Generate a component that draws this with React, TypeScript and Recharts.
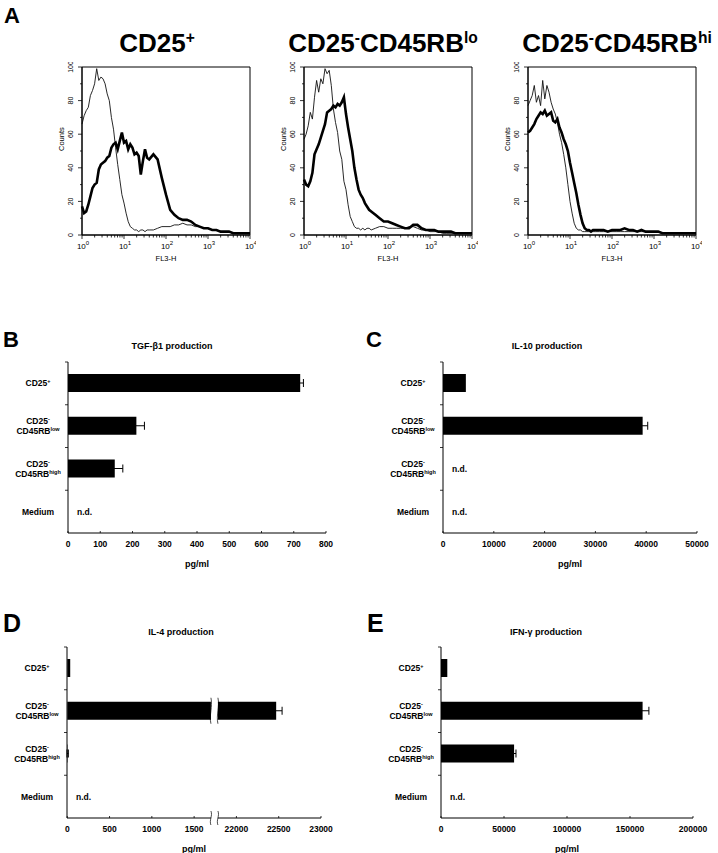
import React from "react";
import {
  LineChart,
  Line,
  XAxis,
  YAxis,
  ReferenceArea,
  BarChart,
  Bar,
  ErrorBar,
} from "recharts";

const FONT = '"Liberation Sans", Arial, Helvetica, sans-serif';

// ---- panel A: FL3-H histograms (x in decades, 10^0 .. 10^4) ----
const fl3Decades = [
  0, 0.05, 0.1, 0.15, 0.2, 0.25, 0.3, 0.35, 0.4, 0.45, 0.5, 0.55, 0.6, 0.65, 0.7, 0.75, 0.8,
  0.85, 0.9, 0.95, 1.0, 1.05, 1.1, 1.15, 1.2, 1.25, 1.3, 1.35, 1.4, 1.45, 1.5, 1.55, 1.6,
  1.7, 1.8, 1.9, 2.0, 2.1, 2.2, 2.3, 2.4, 2.5, 2.6, 2.7, 2.8, 2.9, 3.0, 3.1, 3.2, 3.3, 3.4,
  3.5, 3.6, 3.7, 3.8, 3.9, 4.0,
];

const cd25PosControl = [
  66, 71, 74, 76, 83, 86, 90, 99, 92, 94, 93, 90, 84, 80, 70, 63, 52, 42, 33, 24, 19, 13, 8, 5,
  4, 3, 3, 2, 3, 3, 2, 3, 3,
  3, 4, 5, 5, 5, 6, 6, 7, 6, 6, 5, 5, 4, 4, 3, 3, 2, 2, 2, 1, 1, 1, 1, 1,
];
const cd25PosStained = [
  17, 13, 14, 18, 23, 28, 30, 31, 39, 42, 43, 44, 46, 47, 52, 54, 55, 51, 56, 61, 55, 56, 51,
  54, 52, 48, 49, 47, 36, 44, 51, 46, 45,
  48, 45, 34, 24, 15, 12, 10, 9, 9, 8, 6, 5, 4, 4, 3, 3, 2, 2, 2, 1, 1, 1, 1, 1,
];

const rbLoControl = [
  57, 60, 65, 73, 69, 82, 92, 85, 93, 90, 99, 96, 98, 89, 75, 67, 61, 50, 45, 32, 27, 18, 11,
  8, 5, 4, 4, 3, 4, 3, 4, 4, 3,
  4, 5, 5, 4, 4, 4, 4, 4, 5, 5, 4, 3, 3, 2, 2, 2, 1, 1, 1, 1, 1, 1, 1, 1,
];
const rbLoStained = [
  33, 30, 29, 32, 37, 48, 51, 54, 58, 62, 66, 73, 74, 75, 77, 76, 78, 77, 79, 82, 72, 64, 57,
  50, 40, 33, 27, 24, 22, 19, 17, 15, 14,
  12, 10, 8, 8, 7, 6, 5, 4, 4, 6, 6, 4, 3, 3, 3, 2, 2, 2, 2, 1, 1, 1, 1, 1,
];

const rbHiControl = [
  77, 80, 83, 89, 79, 83, 77, 92, 81, 89, 85, 79, 75, 72, 67, 60, 55, 48, 40, 30, 20, 13, 7, 4,
  3, 3, 2, 2, 2, 2, 2, 2, 2,
  2, 2, 2, 2, 2, 2, 2, 2, 2, 2, 2, 2, 2, 2, 2, 1, 1, 1, 1, 1, 1, 1, 1, 1,
];
const rbHiStained = [
  61, 62, 64, 66, 69, 71, 73, 72, 74, 71, 72, 73, 68, 67, 69, 64, 61, 57, 54, 50, 43, 37, 31,
  25, 18, 12, 7, 4, 3, 3, 2, 3, 3,
  3, 3, 2, 3, 3, 3, 4, 3, 3, 2, 3, 2, 2, 2, 2, 1, 1, 1, 1, 1, 1, 1, 1, 1,
];

const countTicks = [0, 10, 20, 30, 40, 50, 60, 70, 80, 90, 100];
const decadeTicks = [0, 1, 2, 3, 4];
const minorSteps = [2, 3, 4, 5, 6, 7, 8, 9];

// ---- panels B-E: cytokine production ----
const cellTypes = ["CD25+", "CD25-CD45RBlow", "CD25-CD45RBhigh", "Medium"];
const cellLabelLines = [
  [["CD25", "+"]],
  [["CD25", "-"], ["CD45RB", "low"]],
  [["CD25", "-"], ["CD45RB", "high"]],
  [["Medium", ""]],
];

const tgfValues = [720, 212, 145, null];
const tgfErrors = [10, 25, 25, null];
const tgfTicks = [0, 100, 200, 300, 400, 500, 600, 700, 800];

const il10Values = [4500, 39300, null, null];
const il10Errors = [0, 1000, null, null];
const il10Ticks = [0, 10000, 20000, 30000, 40000, 50000];

const il4Values = [35, 22470, 5, null];
const il4Errors = [0, 70, 8, null];
// broken axis: display units, real values above the break are shifted by IL4_OFFSET
const il4Ticks = [0, 500, 1000, 1500, 2000, 2500, 3000];
const il4TickLabels = ["0", "500", "1000", "1500", "22000", "22500", "23000"];
const IL4_BREAK = 1740;
const IL4_OFFSET = 20000;

const ifnValues = [5000, 160000, 58000, null];
const ifnErrors = [0, 5000, 1500, null];
const ifnTicks = [0, 50000, 100000, 150000, 200000];

const HIST = 168;
const HIST_AX = 30;
const PLOT_H = 171;
const ROW_H = PLOT_H / 4;
const Y_W = 62;
const X_H = 38;
const X_GAP = 10;

const LogTick = ({ x, y, payload }: any) => {
  const v = payload.value;
  const major = Number.isInteger(v);
  const axisY = y - 8;
  return (
    <g>
      <line x1={x} x2={x} y1={axisY} y2={axisY + (major ? 4 : 2.5)} stroke="#000" strokeWidth={0.8} />
      {major && (
        <text x={x + 1} y={axisY + 14} textAnchor="middle" fontSize={8} fontFamily={FONT} fill="#000">
          10
          <tspan dy={-4} fontSize={6}>
            {v}
          </tspan>
        </text>
      )}
    </g>
  );
};

const CountTick = ({ x, y, payload }: any) => {
  const v = payload.value;
  const major = v % 20 === 0;
  return (
    <g>
      <line x1={x - (major ? 4 : 2)} x2={x} y1={y} y2={y} stroke="#000" strokeWidth={0.8} />
      {major && (
        <text
          transform={`translate(${x - 9}, ${y}) rotate(-90)`}
          textAnchor="middle"
          fontSize={7}
          fontFamily={FONT}
          fill="#000"
        >
          {v}
        </text>
      )}
    </g>
  );
};

function Histogram({ plotLeft, control, stained }: any) {
  const data = fl3Decades.map((d, i) => ({ d, control: control[i], stained: stained[i] }));
  const ticks = decadeTicks.flatMap((d) =>
    d < 4 ? [d, ...minorSteps.map((m) => d + Math.log10(m))] : [d]
  );
  return (
    <div style={{ position: "absolute", left: plotLeft - HIST_AX, top: 62 }}>
      <LineChart
        width={HIST_AX + HIST + 6}
        height={5 + HIST + 32}
        data={data}
        margin={{ top: 5, right: 6, left: 0, bottom: 0 }}
      >
        <XAxis
          dataKey="d"
          type="number"
          domain={[0, 4]}
          ticks={ticks}
          interval={0}
          tickSize={0}
          tickMargin={8}
          tick={(p: any) => <LogTick {...p} />}
          axisLine={{ stroke: "#000" }}
          height={32}
          label={{ value: "FL3-H", position: "insideBottom", offset: 6, fontSize: 7.5, fill: "#000", fontFamily: FONT }}
        />
        <YAxis
          type="number"
          domain={[0, 100]}
          ticks={countTicks}
          interval={0}
          tickSize={0}
          tickMargin={0}
          tick={(p: any) => <CountTick {...p} />}
          width={HIST_AX}
          axisLine={{ stroke: "#000" }}
          label={{ value: "Counts", angle: -90, position: "insideLeft", offset: 9, fontSize: 7.5, fill: "#000", fontFamily: FONT }}
        />
        <ReferenceArea x1={0} x2={4} y1={0} y2={100} fill="none" fillOpacity={0} stroke="#000" strokeWidth={1} />
        <Line dataKey="control" type="linear" stroke="#111" strokeWidth={0.9} dot={false} isAnimationActive={false} />
        <Line dataKey="stained" type="linear" stroke="#000" strokeWidth={2.6} dot={false} isAnimationActive={false} />
      </LineChart>
    </div>
  );
}

const BreakMark = ({ cx, top, bottom }: any) => {
  const h = bottom - top;
  const edge = (dx: number) =>
    `M${cx + dx},${top} C${cx + dx + 2},${top + h * 0.35} ${cx + dx - 2},${top + h * 0.65} ${cx + dx},${bottom}`;
  return (
    <g>
      <rect x={cx - 3.5} y={top} width={7} height={h} fill="#fff" />
      <path d={edge(-3.5)} fill="none" stroke="#000" strokeWidth={0.7} />
      <path d={edge(3.5)} fill="none" stroke="#000" strokeWidth={0.7} />
    </g>
  );
};

const BrokenBar = (props: any) => {
  const { x, y, width, height, payload } = props;
  if (!width || width <= 0) return <g />;
  const rect = <rect x={x} y={y} width={width} height={height} fill="#000" />;
  if (payload.shown <= IL4_BREAK) return rect;
  const bx = x + (width * IL4_BREAK) / payload.shown;
  return (
    <g>
      {rect}
      <BreakMark cx={bx} top={y - 4} bottom={y + height + 4} />
    </g>
  );
};

const ValueTick = ({ x, y, payload, format, breakAt }: any) => {
  const axisY = y - X_GAP;
  if (breakAt != null && payload.value === breakAt) {
    return <BreakMark cx={x} top={axisY - 7} bottom={axisY + 7} />;
  }
  return (
    <g>
      <line x1={x} x2={x} y1={axisY} y2={axisY - 2} stroke="#000" strokeWidth={0.8} />
      <text x={x} y={axisY + 14} textAnchor="middle" fontSize={8.5} fontWeight="bold" fontFamily={FONT} fill="#000">
        {format ? format(payload.value) : payload.value}
      </text>
    </g>
  );
};

const CellTick = ({ x, y, payload, values }: any) => {
  const i = cellTypes.indexOf(payload.value);
  const lines = cellLabelLines[i];
  const n = lines.length;
  const rowTop = y - ROW_H / 2;
  return (
    <g fontFamily={FONT} fontWeight="bold" fill="#000">
      <line x1={x - 3} x2={x} y1={rowTop} y2={rowTop} stroke="#000" strokeWidth={0.8} />
      {lines.map(([main, sup]: any, k: number) => (
        <text key={k} x={x - 30} y={y + (k - (n - 1) / 2) * 9.5} dy="0.35em" textAnchor="middle" fontSize={8.5}>
          {main}
          {sup && (
            <tspan dy={-3} fontSize={5.5}>
              {sup}
            </tspan>
          )}
        </text>
      ))}
      {values[i] == null && (
        <text x={x + 9} y={y} dy="0.35em" fontSize={8.5}>
          n.d.
        </text>
      )}
    </g>
  );
};

function CytokinePanel({ plotLeft, plotTop, plotWidth, values, errors, domain, ticks, format, breakAt, toShown }: any) {
  const data = cellTypes.map((name, i) => ({
    name,
    shown: values[i] == null ? null : toShown ? toShown(values[i]) : values[i],
    err: errors[i],
  }));
  return (
    <div style={{ position: "absolute", left: plotLeft - Y_W, top: plotTop - 8 }}>
      <BarChart
        layout="vertical"
        width={Y_W + plotWidth + 30}
        height={8 + PLOT_H + X_H}
        data={data}
        margin={{ top: 8, right: 30, left: 0, bottom: 0 }}
      >
        <XAxis
          type="number"
          domain={domain}
          ticks={breakAt != null ? [...ticks, breakAt].sort((a, b) => a - b) : ticks}
          interval={0}
          tickSize={0}
          tickMargin={X_GAP}
          tick={(p: any) => <ValueTick {...p} format={format} breakAt={breakAt} />}
          height={X_H}
          axisLine={{ stroke: "#000" }}
          label={{ value: "pg/ml", position: "insideBottom", offset: 4, fontSize: 9, fontWeight: "bold", fill: "#000", fontFamily: FONT }}
        />
        <YAxis
          type="category"
          dataKey="name"
          width={Y_W}
          tickSize={0}
          tickMargin={0}
          interval={0}
          tick={(p: any) => <CellTick {...p} values={values} />}
          axisLine={{ stroke: "#000" }}
        />
        <Bar
          dataKey="shown"
          fill="#000"
          barSize={18}
          isAnimationActive={false}
          shape={breakAt != null ? BrokenBar : undefined}
        >
          <ErrorBar dataKey="err" direction="x" width={4} stroke="#000" strokeWidth={1} />
        </Bar>
      </BarChart>
    </div>
  );
}

const abs = (left: number, top: number, extra: any = {}) => ({
  position: "absolute" as const,
  left,
  top,
  fontFamily: FONT,
  fontWeight: "bold" as const,
  lineHeight: 1,
  whiteSpace: "nowrap" as const,
  ...extra,
});

const Sup = ({ children }: any) => (
  <span style={{ fontSize: "0.6em", position: "relative", top: "-0.6em" }}>{children}</span>
);

const CenteredTitle = ({ cx, top, size, children }: any) => (
  <div style={abs(cx - 150, top, { width: 300, textAlign: "center", fontSize: size })}>{children}</div>
);

export default function App() {
  return (
    <div style={{ position: "relative", width: 718, height: 853, background: "#fff", overflow: "hidden" }}>
      <style>{"body{margin:0}"}</style>

      <div style={abs(4, 5, { fontSize: 22 })}>A</div>
      <CenteredTitle cx={157} top={30} size={26}>
        CD25<Sup>+</Sup>
      </CenteredTitle>
      <CenteredTitle cx={383} top={30} size={26}>
        CD25<Sup>-</Sup>CD45RB<Sup>lo</Sup>
      </CenteredTitle>
      <CenteredTitle cx={617} top={30} size={26}>
        CD25<Sup>-</Sup>CD45RB<Sup>hi</Sup>
      </CenteredTitle>

      <Histogram plotLeft={82} control={cd25PosControl} stained={cd25PosStained} />
      <Histogram plotLeft={304} control={rbLoControl} stained={rbLoStained} />
      <Histogram plotLeft={528} control={rbHiControl} stained={rbHiStained} />

      <div style={abs(3, 329, { fontSize: 22 })}>B</div>
      <CenteredTitle cx={172} top={342} size={9}>TGF-β1 production</CenteredTitle>
      <CytokinePanel plotLeft={68} plotTop={362} plotWidth={258} values={tgfValues} errors={tgfErrors} domain={[0, 800]} ticks={tgfTicks} />

      <div style={abs(366, 329, { fontSize: 22 })}>C</div>
      <CenteredTitle cx={547} top={342} size={9}>IL-10 production</CenteredTitle>
      <CytokinePanel plotLeft={443} plotTop={362} plotWidth={254} values={il10Values} errors={il10Errors} domain={[0, 50000]} ticks={il10Ticks} />

      <div style={abs(3, 611, { fontSize: 25 })}>D</div>
      <CenteredTitle cx={181} top={628} size={9}>IL-4 production</CenteredTitle>
      <CytokinePanel
        plotLeft={67}
        plotTop={647}
        plotWidth={254}
        values={il4Values}
        errors={il4Errors}
        domain={[0, 3000]}
        ticks={il4Ticks}
        breakAt={IL4_BREAK}
        toShown={(v: number) => (v > IL4_BREAK ? v - IL4_OFFSET : v)}
        format={(v: number) => il4TickLabels[il4Ticks.indexOf(v)]}
      />

      <div style={abs(367, 611, { fontSize: 25 })}>E</div>
      <CenteredTitle cx={546} top={628} size={9}>IFN-γ production</CenteredTitle>
      <CytokinePanel plotLeft={441} plotTop={647} plotWidth={252} values={ifnValues} errors={ifnErrors} domain={[0, 200000]} ticks={ifnTicks} />
    </div>
  );
}
